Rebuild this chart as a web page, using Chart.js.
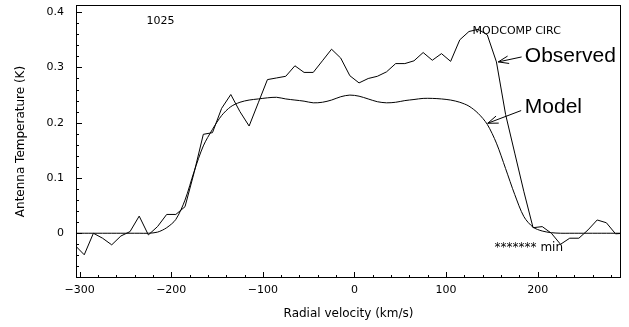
<!DOCTYPE html>
<html>
<head>
<meta charset="utf-8">
<title>1025 MODCOMP CIRC</title>
<script src="https://cdn.jsdelivr.net/npm/chart.js@4.4.1/dist/chart.umd.min.js"></script>
<style>
  html, body { margin: 0; padding: 0; background: #fff; }
  canvas { display: block; }
</style>
</head>
<body>
<canvas id="spectrum" width="629" height="327"></canvas>
<script>
/* CHANNEL VELOCITIES (km/s) */
const velocity = [
  -305, -295, -285, -275, -265, -255, -245, -235, -225, -215,
  -205, -195, -185, -175, -165, -155, -145, -135, -125, -115,
  -105, -95, -85, -75, -65, -55, -45, -35, -25, -15,
  -5, 5, 15, 25, 35, 45, 55, 65, 75, 85,
  95, 105, 115, 125, 135, 145, 155, 165, 175, 185,
  195, 205, 215, 225, 235, 245, 255, 265, 275, 285,
  295
];

/* OBSERVED SPECTRUM (K) */
const observed = [
  -0.022, -0.039, 0.000, -0.009, -0.021, -0.005, 0.003, 0.031, -0.003, 0.012,
  0.034, 0.034, 0.048, 0.110, 0.179, 0.182, 0.226, 0.251, 0.220, 0.194,
  0.236, 0.278, 0.281, 0.284, 0.303, 0.291, 0.291, 0.312, 0.333, 0.317,
  0.285, 0.272, 0.280, 0.284, 0.292, 0.307, 0.307, 0.312, 0.327, 0.313,
  0.325, 0.311, 0.350, 0.365, 0.369, 0.359, 0.310, 0.215, 0.145, 0.075,
  0.010, 0.012, 0.000, -0.020, -0.009, -0.009, 0.006, 0.024, 0.019, -0.001,
  0.000
];

/* MODEL (K) */
const model = [
  0, 0, 0, 0, 0, 0, 0, 0, 0, 0.002,
  0.010, 0.025, 0.060, 0.112, 0.158, 0.188, 0.213, 0.229, 0.237, 0.241,
  0.243, 0.245, 0.246, 0.243, 0.241, 0.239, 0.236, 0.237, 0.241, 0.247,
  0.250, 0.248, 0.243, 0.238, 0.236, 0.237, 0.240, 0.242, 0.244, 0.244,
  0.243, 0.241, 0.237, 0.230, 0.217, 0.197, 0.163, 0.117, 0.070, 0.030,
  0.011, 0.004, 0.001, 0, 0, 0, 0, 0, 0, 0,
  0
];

/* TICKS */
const xTicks = [-300, -200, -100, 0, 100, 200];
const yTicks = [0, 0.1, 0.2, 0.3, 0.4];

const toPoints = values => velocity.map((v, i) => ({ x: v, y: values[i] }));

/* arrow with an open head, in data units */
function arrow(ctx, x, y, from, to) {
  const x0 = x.getPixelForValue(from[0]);
  const y0 = y.getPixelForValue(from[1]);
  const x1 = x.getPixelForValue(to[0]);
  const y1 = y.getPixelForValue(to[1]);
  const ang = Math.atan2(y1 - y0, x1 - x0);
  ctx.beginPath();
  ctx.moveTo(x0, y0);
  ctx.lineTo(x1, y1);
  ctx.moveTo(x1 - 11 * Math.cos(ang - 0.35), y1 - 11 * Math.sin(ang - 0.35));
  ctx.lineTo(x1, y1);
  ctx.lineTo(x1 - 11 * Math.cos(ang + 0.35), y1 - 11 * Math.sin(ang + 0.35));
  ctx.stroke();
}

/* FRAME, INNER TICKS AND NOTES */
const framePlugin = {
  id: "framePlugin",
  afterDraw(chart) {
    const { ctx, chartArea: a, scales: { x, y } } = chart;
    ctx.save();
    ctx.strokeStyle = "#000";
    ctx.fillStyle = "#000";
    ctx.lineWidth = 1;
    ctx.strokeRect(a.left + 0.5, a.top + 0.5, a.right - a.left - 1, a.bottom - a.top - 1);

    ctx.beginPath();
    for (let v = -300; v <= x.max; v += 20) {
      const px = Math.round(x.getPixelForValue(v)) + 0.5;
      const len = v % 100 === 0 ? 6 : 3;
      ctx.moveTo(px, a.bottom);
      ctx.lineTo(px, a.bottom - len);
    }
    for (let i = -4; i <= 20; i++) {
      const py = Math.round(y.getPixelForValue(i * 0.02)) + 0.5;
      const len = i % 5 === 0 ? 6 : 3;
      ctx.moveTo(a.left, py);
      ctx.lineTo(a.left + len, py);
    }
    ctx.stroke();

    ctx.textBaseline = "middle";
    ctx.textAlign = "left";
    ctx.font = "11px 'DejaVu Sans'";
    ctx.fillText("1025", x.getPixelForValue(-227), y.getPixelForValue(0.384));
    ctx.fillText("MODCOMP CIRC", x.getPixelForValue(129), y.getPixelForValue(0.365));
    ctx.font = "12px 'DejaVu Sans'";
    ctx.fillText("******* min", x.getPixelForValue(153), y.getPixelForValue(-0.027));

    ctx.font = "21px 'Liberation Sans'";
    ctx.fillText("Observed", x.getPixelForValue(186), y.getPixelForValue(0.320));
    ctx.fillText("Model", x.getPixelForValue(186), y.getPixelForValue(0.228));

    arrow(ctx, x, y, [182.5, 0.319], [157, 0.310]);
    arrow(ctx, x, y, [182, 0.222], [145.5, 0.199]);
    ctx.restore();
  }
};

new Chart(document.getElementById("spectrum"), {
  type: "line",
  data: {
    datasets: [
      {
        label: "Observed",
        data: toPoints(observed),
        borderColor: "#000",
        borderWidth: 1,
        pointRadius: 0,
        tension: 0
      },
      {
        label: "Model",
        data: toPoints(model),
        borderColor: "#000",
        borderWidth: 1,
        pointRadius: 0,
        tension: 0.3
      }
    ]
  },
  options: {
    responsive: false,
    animation: false,
    devicePixelRatio: 1,
    layout: { padding: { left: 0, right: 8, top: 5, bottom: 0 } },
    plugins: {
      legend: { display: false },
      tooltip: { enabled: false }
    },
    scales: {
      x: {
        type: "linear",
        min: -304,
        max: 291,
        grid: { display: false, drawTicks: false },
        border: { display: false },
        afterBuildTicks: scale => { scale.ticks = xTicks.map(v => ({ value: v })); },
        afterFit: scale => {
          scale.height = 49;
          scale.paddingLeft = 0;
          scale.paddingRight = 0;
        },
        ticks: {
          color: "#000",
          font: { family: "DejaVu Sans", size: 11 },
          padding: 6,
          autoSkip: false,
          maxRotation: 0,
          callback: v => (v < 0 ? "\u2212" + Math.abs(v) : String(v))
        },
        title: {
          display: true,
          text: "Radial velocity (km/s)",
          color: "#000",
          font: { family: "DejaVu Sans", size: 12 },
          padding: { top: 0, bottom: 6 }
        }
      },
      y: {
        min: -0.081,
        max: 0.413,
        grid: { display: false, drawTicks: false },
        border: { display: false },
        afterBuildTicks: scale => { scale.ticks = yTicks.map(v => ({ value: v })); },
        afterFit: scale => {
          scale.width = 76;
          scale.paddingTop = 0;
          scale.paddingBottom = 0;
        },
        ticks: {
          color: "#000",
          font: { family: "DejaVu Sans", size: 11 },
          padding: 12,
          callback: v => (v === 0 ? "0" : v.toFixed(1))
        },
        title: {
          display: true,
          text: "Antenna Temperature (K)",
          color: "#000",
          font: { family: "DejaVu Sans", size: 12 },
          padding: { top: 14, bottom: 0 }
        }
      }
    }
  },
  plugins: [framePlugin]
});
</script>
</body>
</html>
